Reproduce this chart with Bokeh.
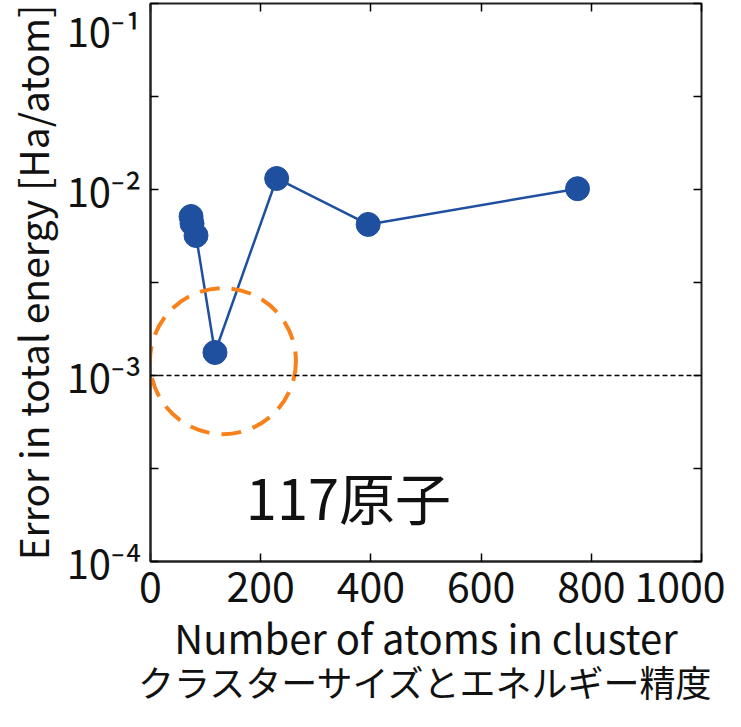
from bokeh.plotting import figure
from bokeh.models import (LogAxis, LinearAxis, FixedTicker, Span,
                          Range1d, ColumnDataSource)
from bokeh.core.properties import value
from bokeh.embed import file_html
from bokeh.resources import INLINE

# ---- data ----
atoms = [73.6, 75.4, 82.6, 117, 229, 395, 775]
error = [7.16e-3, 6.56e-3, 5.66e-3, 1.33e-3, 1.146e-2, 6.49e-3, 1.01e-2]

x_ticks = [0, 200, 400, 600, 800, 1000]
y_ticks = [1e-4, 1e-3, 1e-2, 1e-1]
y_minor_ticks = [10 ** -3.5, 10 ** -2.5, 10 ** -1.5]
# label positions (the top label sits a little below its tick, as in the reference)
y_label_positions = [1e-4, 1e-3, 1e-2, 10 ** -1.13]
y_tick_labels = ["10⁻⁴", "10⁻³", "10⁻²", "10⁻¹"]

threshold = 1e-3
highlight_atoms = [131.5]
highlight_error = [1.194e-3]
note_text = "117原子"
note_atoms = 173
note_error = 2.27e-4

x_label = "Number of atoms in cluster"
y_label = "Error in total energy [Ha/atom]"
caption = "クラスターサイズとエネルギー精度"

FONT = "Noto Sans CJK JP"
BLUE = "#1f4f9f"
ORANGE = "#f7821b"
INK = "#111111"
FRAME = "#222222"

p = figure(width=725, height=711, x_range=Range1d(0, 1000),
           y_range=Range1d(1e-4, 1e-1), y_axis_type="log",
           output_backend="svg", toolbar_location=None,
           min_border_left=141, min_border_right=24,
           min_border_top=3, min_border_bottom=150)
p.grid.visible = False
p.outline_line_color = FRAME
p.outline_line_width = 2
p.background_fill_color = "white"
p.border_fill_color = "white"

# x axis
xa = p.xaxis[0]
xa.ticker = FixedTicker(ticks=x_ticks)
xa.major_tick_in = 8
xa.major_tick_out = 0
xa.minor_tick_in = 0
xa.minor_tick_out = 0
xa.axis_line_width = 2
xa.axis_line_color = FRAME
xa.major_tick_line_width = 1.5
xa.major_label_text_font = FONT
xa.major_label_text_font_size = "41px"
xa.major_label_text_color = INK
xa.major_label_standoff = 10
xa.axis_label = x_label
xa.axis_label_text_font = FONT
xa.axis_label_text_font_size = "40px"
xa.axis_label_text_font_style = "normal"
xa.axis_label_text_color = INK
xa.axis_label_standoff = 3

# caption: a tickless second axis below, carrying only its label
cap_axis = LinearAxis(ticker=FixedTicker(ticks=[]), axis_line_color=None,
                      major_tick_line_color=None, minor_tick_line_color=None,
                      major_tick_in=0, major_tick_out=0, minor_tick_in=0, minor_tick_out=0,
                      major_label_text_font_size="0px", major_label_standoff=0,
                      axis_label=caption, axis_label_text_font=FONT,
                      axis_label_text_font_size="36px", axis_label_text_font_style="normal",
                      axis_label_text_color=INK, axis_label_standoff=-14)
p.add_layout(cap_axis, "below")

# inner y axis: tick marks only
ya = p.yaxis[0]
ya.ticker = FixedTicker(ticks=y_ticks, minor_ticks=y_minor_ticks)
ya.major_tick_in = 8
ya.major_tick_out = 0
ya.minor_tick_in = 8
ya.minor_tick_out = 0
ya.axis_line_width = 2
ya.axis_line_color = FRAME
ya.major_tick_line_width = 1.5
ya.minor_tick_line_width = 1.5
ya.major_label_overrides = {t: "" for t in y_ticks}
ya.major_label_text_font_size = "0px"
ya.major_label_standoff = 0
ya.axis_label_standoff = 0

# outer y axis: tick labels and axis title
yl = LogAxis(ticker=FixedTicker(ticks=y_label_positions),
             major_tick_in=0, major_tick_out=0, minor_tick_in=0, minor_tick_out=0,
             axis_line_color=None, major_tick_line_color=None, minor_tick_line_color=None,
             major_label_overrides={t: l for t, l in zip(y_label_positions, y_tick_labels)},
             major_label_text_font=FONT, major_label_text_font_size="40px",
             major_label_text_color=INK, major_label_standoff=9,
             axis_label=y_label, axis_label_text_font=FONT,
             axis_label_text_font_size="39px", axis_label_text_font_style="normal",
             axis_label_text_color=INK, axis_label_standoff=4)
p.add_layout(yl, "left")

# mirrored ticks (right / top), no labels
ra = LogAxis(ticker=FixedTicker(ticks=y_ticks, minor_ticks=y_minor_ticks),
             major_tick_in=8, major_tick_out=0, minor_tick_in=8, minor_tick_out=0,
             major_tick_line_width=1.5, minor_tick_line_width=1.5,
             axis_line_color=None, major_label_text_font_size="0px",
             major_label_standoff=0, axis_label_standoff=0,
             major_label_overrides={t: "" for t in y_ticks})
p.add_layout(ra, "right")
ta = LinearAxis(ticker=FixedTicker(ticks=x_ticks),
                major_tick_in=8, major_tick_out=0, minor_tick_in=0, minor_tick_out=0,
                major_tick_line_width=1.5, axis_line_color=None,
                major_label_text_font_size="0px",
                major_label_standoff=0, axis_label_standoff=0,
                major_label_overrides={t: "" for t in x_ticks})
p.add_layout(ta, "above")

# threshold line
p.add_layout(Span(location=threshold, dimension="width", line_color="black",
                  line_dash="5 3", line_width=1.5))

src = ColumnDataSource(dict(atoms=atoms, error=error))
p.line("atoms", "error", source=src, line_color=BLUE, line_width=2.5)
p.scatter("atoms", "error", source=src, size=24, marker="circle",
          fill_color=BLUE, line_color=BLUE)

# highlight circle
p.scatter(highlight_atoms, highlight_error, size=146, marker="circle",
          fill_color=None, line_color=ORANGE, line_width=4, line_dash="20 12")

p.text(x=[note_atoms], y=[note_error], text=[note_text], text_font=value(FONT),
       text_font_size="56px", text_color=INK, text_baseline="alphabetic",
       text_align="left")

open("out.html", "w").write(file_html(p, INLINE))
